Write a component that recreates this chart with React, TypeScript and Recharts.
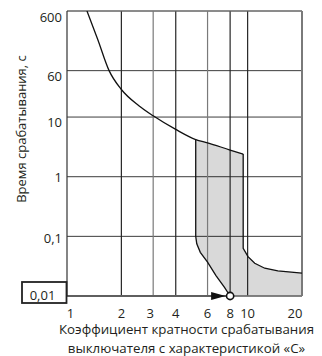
import React from 'react';
import {
  ComposedChart,
  Area,
  Line,
  XAxis,
  YAxis,
  CartesianGrid,
  ReferenceLine,
  ReferenceDot,
} from 'recharts';

// Axis ticks
const xTicks = [1, 2, 3, 4, 6, 8, 10, 20];
const xTickLabels = ['1', '2', '3', '4', '6', '8', '10', '20'];
const yTicks = [0.01, 0.1, 1, 10, 60, 600];
const yTickLabels = ['0,01', '0,1', '1', '10', '60', '600'];

// Upper tripping curve (multiple of In, time s)
const upperX = [1.29, 1.48, 1.71, 2, 2.5, 3, 4, 5.16, 6, 8, 9.45];
const upperT = [600, 200, 60, 29, 15.5, 10.5, 6.2, 4.2, 3.7, 2.8, 2.4];

// Left boundary of the tolerance band
const leftX = [5.16, 5.16, 5.23, 5.47, 6, 6.68, 7.43, 8];
const leftT = [4.2, 0.1, 0.075, 0.054, 0.037, 0.022, 0.0141, 0.01];

// Right boundary of the tolerance band
const rightX = [9.45, 9.45, 10.05, 10.95, 12.44, 14.7, 20];
const rightT = [2.4, 0.063, 0.0456, 0.0354, 0.0292, 0.0264, 0.0242];

// Shaded band (low / high)
const bandX = [5.16, 5.23, 5.47, 6, 6.68, 7.43, 8, 9.45, 9.45, 10.05, 10.95, 12.44, 14.7, 20];
const bandLow = [0.1, 0.075, 0.054, 0.037, 0.022, 0.0141, 0.01, 0.01, 0.01, 0.01, 0.01, 0.01, 0.01, 0.01];
const bandHigh = [4.2, 4.15, 3.95, 3.7, 3.3, 3.0, 2.8, 2.4, 0.063, 0.0456, 0.0354, 0.0292, 0.0264, 0.0242];

// Marked point (arrow target)
const markX = 8;
const markY = 0.01;

const xTitle1 = 'Коэффициент кратности срабатывания';
const xTitle2 = 'выключателя с характеристикой «С»';
const yTitle = 'Время срабатывания, с';

const upperData = upperX.map((x, i) => ({ x, t: upperT[i] }));
const leftData = leftX.map((x, i) => ({ x, t: leftT[i] }));
const rightData = rightX.map((x, i) => ({ x, t: rightT[i] }));
const bandData = bandX.map((x, i) => ({ x, lo: bandLow[i], hi: bandHigh[i] }));

const FONT = "'Open Sans', sans-serif";
const TEXT = '#231f20';

const yLabelShift: Record<number, number> = { 600: 6.5, 60: 5.3, 10: 5.5, 1: 0.8, 0.1: 1.6, 0.01: 0 };
const xLabelShift: Record<number, number> = { 1: 3.5, 3: -3, 20: -7 };

const YTick = (props: any) => {
  const { x, y, payload } = props;
  const v = payload.value;
  const label = yTickLabels[yTicks.indexOf(v)];
  if (v === 0.01) {
    return (
      <g>
        <rect x={x - 40} y={y - 14} width={44.5} height={21} fill="#fff" stroke="#222" strokeWidth={1.8} />
        <text x={x - 19.5} y={y + 3.5} textAnchor="middle" fontFamily={FONT} fontSize={13} fill={TEXT}>
          {label}
        </text>
      </g>
    );
  }
  return (
    <text x={x} y={y + (yLabelShift[v] || 0) + 4.6} textAnchor="end" fontFamily={FONT} fontSize={13} fill={TEXT}>
      {label}
    </text>
  );
};

const XTick = (props: any) => {
  const { x, y, payload } = props;
  const v = payload.value;
  const label = xTickLabels[xTicks.indexOf(v)];
  return (
    <text x={x + (xLabelShift[v] || 0)} y={y + 18.5} textAnchor="middle" fontFamily={FONT} fontSize={13} fill={TEXT}>
      {label}
    </text>
  );
};

const XTitle = (props: any) => {
  const vb = props.viewBox || { x: 67, y: 296, width: 235 };
  const cx = vb.x + vb.width / 2 + 2;
  return (
    <g>
      <text x={cx} y={vb.y + 38.3} textAnchor="middle" fontFamily={FONT} fontSize={13.3} fill={TEXT}>
        {xTitle1}
      </text>
      <text x={cx} y={vb.y + 56.5} textAnchor="middle" fontFamily={FONT} fontSize={13.3} fill={TEXT}>
        {xTitle2}
      </text>
    </g>
  );
};

const YTitle = () => {
  const cx = 21;
  const cy = 129;
  return (
    <text
      x={cx}
      y={cy}
      transform={`rotate(-90 ${cx} ${cy})`}
      textAnchor="middle"
      dominantBaseline="central"
      fontFamily={FONT}
      fontSize={13}
      fill={TEXT}
    >
      {yTitle}
    </text>
  );
};

const MarkShape = (props: any) => {
  const { cx, cy } = props;
  return (
    <g>
      <polygon points={`${cx - 19},${cy - 4} ${cx - 4.5},${cy} ${cx - 19},${cy + 4}`} fill="#111" />
      <circle cx={cx} cy={cy} r={3.6} fill="#fff" stroke="#111" strokeWidth={1.6} />
    </g>
  );
};

const gridColor = (v: number) => (v === 3 || v === 6 ? '#7a7a7a' : '#262626');

export default function App() {
  return (
    <div style={{ position: 'absolute', left: 0, top: 0, width: 322, height: 356, background: '#fff' }}>
      <ComposedChart
        width={322}
        height={356}
        data={bandData}
        margin={{ top: 11, right: 20, bottom: 0, left: 0 }}
      >
        <CartesianGrid vertical={false} stroke="#3c3c3c" strokeWidth={1} />
        <XAxis
          dataKey="x"
          type="number"
          scale="log"
          domain={[1, 20]}
          ticks={xTicks}
          allowDataOverflow
          height={60}
          tickSize={0}
          tickMargin={3}
          axisLine={{ stroke: '#7a7a7a', strokeWidth: 1.5 }}
          tickLine={false}
          tick={<XTick />}
          label={<XTitle />}
        />
        <YAxis
          type="number"
          scale="log"
          domain={[0.01, 600]}
          ticks={yTicks}
          allowDataOverflow
          width={67}
          tickSize={0}
          tickMargin={5}
          axisLine={{ stroke: '#333', strokeWidth: 1.2 }}
          tickLine={false}
          tick={<YTick />}
          label={<YTitle />}
        />
        {xTicks.slice(1, -1).map((v) => (
          <ReferenceLine key={v} x={v} stroke={gridColor(v)} strokeWidth={1.2} />
        ))}
        <ReferenceLine y={600} stroke="#7a7a7a" strokeWidth={1.2} />
        <ReferenceLine x={20} stroke="#7a7a7a" strokeWidth={2} />
        <Area
          dataKey={(d: any) => [d.lo, d.hi]}
          type="linear"
          stroke="none"
          fill="#000"
          fillOpacity={0.15}
          isAnimationActive={false}
        />
        <Line data={upperData} dataKey="t" type="monotone" stroke="#111" strokeWidth={1.3} dot={false} isAnimationActive={false} />
        <Line data={leftData} dataKey="t" type="linear" stroke="#111" strokeWidth={1.3} dot={false} isAnimationActive={false} />
        <Line data={rightData} dataKey="t" type="linear" stroke="#111" strokeWidth={1.3} dot={false} isAnimationActive={false} />
        <ReferenceLine
          segment={[{ x: 1, y: markY }, { x: markX, y: markY }]}
          stroke="#111"
          strokeWidth={2}
        />
        <ReferenceDot x={markX} y={markY} r={4} shape={<MarkShape />} />
      </ComposedChart>
    </div>
  );
}
